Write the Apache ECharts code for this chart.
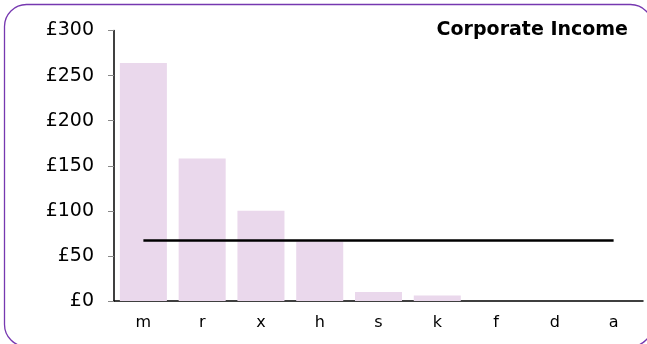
<!DOCTYPE html>
<html>
<head>
<meta charset="utf-8">
<script src="https://cdn.jsdelivr.net/npm/echarts@6/dist/echarts.min.js"></script>
<style>
  html, body { margin: 0; padding: 0; background: #fff; }
  #chart { width: 647px; height: 344px; }
</style>
</head>
<body>
<div id="chart"></div>
<script>
// Income by company code, in pounds
const categories = ['m', 'r', 'x', 'h', 's', 'k', 'f', 'd', 'a'];
const income = [264, 158, 100, 66, 10, 6, 0, 0, 0];
// Average income reference line
const averageLine = [67, 67, 67, 67, 67, 67, 67, 67, 67];
const yTicks = { min: 0, max: 300, interval: 50 };

const chart = echarts.init(document.getElementById('chart'), null, { renderer: 'canvas' });
const font = 'Verdana, "DejaVu Sans", sans-serif';

chart.setOption({
  animation: false,
  backgroundColor: '#fff',
  title: {
    text: 'Corporate Income',
    right: 14,
    top: 16,
    textStyle: { fontFamily: font, fontWeight: 'bold', fontSize: 19, color: '#000' }
  },
  graphic: [{
    type: 'rect',
    shape: { x: 4.5, y: 4.5, width: 648, height: 342, r: 22 },
    style: { fill: 'none', stroke: '#7638B0', lineWidth: 1.3 },
    silent: true,
    z: 100
  }],
  grid: { left: 114, right: 4, top: 30.5, bottom: 43, containLabel: false },
  xAxis: {
    type: 'category',
    data: categories,
    boundaryGap: true,
    axisLine: { show: true, lineStyle: { color: '#000', width: 1.5 } },
    axisTick: { show: false },
    axisLabel: { fontFamily: font, fontSize: 16, color: '#000', margin: 14 },
    splitLine: { show: false }
  },
  yAxis: {
    type: 'value',
    min: yTicks.min,
    max: yTicks.max,
    interval: yTicks.interval,
    axisLine: { show: true, lineStyle: { color: '#000', width: 1.5 } },
    axisTick: { show: true, length: 6, lineStyle: { color: '#888' } },
    axisLabel: { fontFamily: font, fontSize: 19, color: '#000', margin: 20, formatter: v => '£' + v },
    splitLine: { show: false }
  },
  series: [
    {
      type: 'bar',
      data: income,
      barCategoryGap: '20%',
      itemStyle: { color: '#EAD8EC' }
    },
    {
      type: 'line',
      data: averageLine,
      symbol: 'none',
      lineStyle: { color: '#000', width: 2.5 },
      z: 5
    }
  ]
});
</script>
</body>
</html>
